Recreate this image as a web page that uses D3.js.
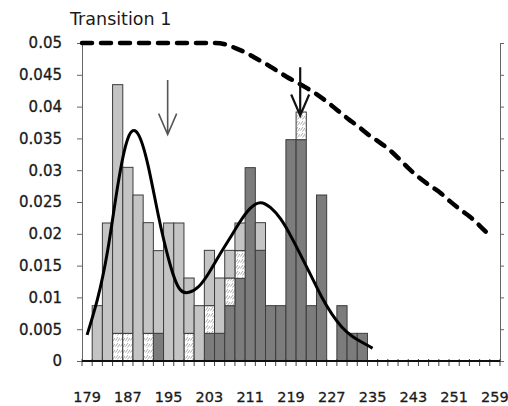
<!DOCTYPE html>
<html>
<head>
<meta charset="utf-8">
<script src="https://cdn.jsdelivr.net/npm/d3@7/dist/d3.min.js"></script>
<style>
  body { margin: 0; background: #fff; }
  svg { display: block; font-family: "DejaVu Sans", Verdana, sans-serif; }
</style>
</head>
<body>
<svg id="chart" width="508" height="406"></svg>
<script>

// histogram categories (bin centres)
const categories = [179, 181, 183, 185, 187, 189, 191, 193, 195, 197, 199, 201, 203, 205,
    207, 209, 211, 213, 215, 217, 219, 221, 223, 225, 227, 229, 231, 233, 235, 237, 239,
    241, 243, 245, 247, 249, 251, 253, 255, 257, 259]

// stacked densities, bottom to top
const groupTwo = [0, 0, 0, 0, 0, 0, 0, 0.00435, 0, 0, 0, 0, 0.00435, 0.00435,
    0.0087, 0.013, 0.0304, 0.0174, 0.0087, 0.0087, 0.0348, 0.0348, 0.0087, 0.0261, 0,
    0.0087, 0.00435, 0.00435, 0, 0, 0, 0, 0, 0, 0, 0, 0, 0, 0, 0, 0]
const unassigned = [0, 0, 0, 0.00435, 0.00435, 0, 0.00435, 0, 0, 0, 0.00435, 0, 0.00435, 0,
    0.00435, 0.00435, 0, 0, 0, 0, 0, 0.00435, 0, 0, 0, 0, 0, 0, 0, 0, 0, 0, 0, 0, 0, 0, 0,
    0, 0, 0, 0]
const groupOne = [0, 0.0087, 0.0217, 0.0391, 0.0261, 0.0261, 0.0174, 0.013, 0.0217, 0.0217,
    0.0087, 0.0087, 0.0087, 0.0087, 0.00435, 0.00435, 0, 0.00435, 0, 0, 0, 0, 0, 0, 0, 0,
    0, 0, 0, 0, 0, 0, 0, 0, 0, 0, 0, 0, 0, 0, 0]

// fitted mixture density
const fitCategories = [179, 181, 183, 185, 187, 189, 191, 193, 195, 197, 199, 201, 203, 205,
    207, 209, 211, 213, 215, 217, 219, 221, 223, 225, 227, 229, 231, 233, 235]
const fitted = [0.0041, 0.0096, 0.0172, 0.0275, 0.0350, 0.0357, 0.0306, 0.0228, 0.0160,
    0.0115, 0.0108, 0.0118, 0.0140, 0.0167, 0.0193, 0.0219, 0.0240, 0.0249, 0.0241, 0.0223,
    0.0196, 0.0165, 0.0133, 0.0101, 0.0074, 0.0053, 0.0039, 0.0029, 0.0020]

// dashed curve (secondary axis)
const boundary = [0.05, 0.05, 0.05, 0.05, 0.05, 0.05, 0.05, 0.05, 0.05, 0.05, 0.05, 0.05,
    0.05, 0.05, 0.0498, 0.0492, 0.0485, 0.0476, 0.0467, 0.0457, 0.0447, 0.0438, 0.0429,
    0.0419, 0.0407, 0.0394, 0.0381, 0.0369, 0.0356, 0.0345, 0.0333, 0.0318, 0.0302, 0.0288,
    0.0276, 0.0265, 0.0251, 0.0238, 0.0226, 0.0211, 0.0195]

const xTickLabels = [179, 187, 195, 203, 211, 219, 227, 235, 243, 251, 259]
const yTicks = [0, 0.005, 0.01, 0.015, 0.02, 0.025, 0.03, 0.035, 0.04, 0.045, 0.05]

// arrows: category, start value, tip value
const arrows = [
    { cat: 195, from: 0.0442, to: 0.0356, color: "#555", width: 1.6 },
    { cat: 221, from: 0.0462, to: 0.0386, color: "#111", width: 2.2 }
]

const svg = d3.select("#chart")
const plotLeft = 82, plotRight = 500, plotTop = 43, plotBottom = 361

const x = d3.scaleBand().domain(categories).range([plotLeft, plotRight]).padding(0)
const x2 = d3.scalePoint().domain(categories).range([plotLeft, 491])
const y = d3.scaleLinear().domain([0, 0.05]).range([plotBottom, plotTop])

// hatch pattern
const pat = svg.append("defs").append("pattern")
    .attr("id", "hatch")
    .attr("patternUnits", "userSpaceOnUse")
    .attr("width", 5).attr("height", 6)
pat.append("rect").attr("width", 5).attr("height", 6).attr("fill", "#fff")
pat.append("path").attr("d", "M0.5,4.5 L3,1 M2.5,5.5 L5,2")
    .attr("stroke", "#aaa").attr("stroke-width", 1)

const table = categories.map((c, i) => ({ cat: c, dark: groupTwo[i], hatch: unassigned[i], light: groupOne[i] }))
const stacked = d3.stack().keys(["dark", "hatch", "light"])(table)
const fills = { dark: "#7c7c7c", hatch: "url(#hatch)", light: "#c4c4c4" }

stacked.forEach(layer => {
    svg.append("g").selectAll("rect")
        .data(layer.filter(d => d[1] - d[0] > 0))
        .join("rect")
        .attr("x", d => x(d.data.cat))
        .attr("width", x.bandwidth())
        .attr("y", d => y(d[1]))
        .attr("height", d => y(d[0]) - y(d[1]))
        .attr("fill", fills[layer.key])
        .attr("stroke", "#3c3c3c")
        .attr("stroke-width", 1)
})

// left axis
const yAxis = svg.append("g")
    .attr("transform", `translate(${plotLeft},0)`)
    .call(d3.axisLeft(y).tickValues(yTicks).tickSize(5).tickPadding(15).tickFormat(d => String(d)))
yAxis.select(".domain").attr("stroke", "#666")
yAxis.selectAll(".tick line").attr("stroke", "#666")
yAxis.selectAll("text").attr("font-size", 15).attr("fill", "#1a1a1a")
    .attr("stroke", "#1a1a1a").attr("stroke-width", 0.3)
    .attr("font-family", "DejaVu Sans, sans-serif")

// right axis, no labels
const yAxisR = svg.append("g")
    .attr("transform", `translate(${plotRight},0)`)
    .call(d3.axisRight(y).tickValues(yTicks).tickSize(4).tickFormat(""))
yAxisR.select(".domain").attr("stroke", "#666")
yAxisR.selectAll(".tick line").attr("stroke", "#666")

// bottom axis: ticks on category boundaries, labels every fourth bin
svg.append("g").selectAll("line")
    .data(categories.concat(["end"]))
    .join("line")
    .attr("x1", d => d === "end" ? plotRight : x(d))
    .attr("x2", d => d === "end" ? plotRight : x(d))
    .attr("y1", plotBottom - 2)
    .attr("y2", plotBottom + 5)
    .attr("stroke", "#444")
    .attr("stroke-width", 1)
svg.append("line")
    .attr("x1", plotLeft).attr("x2", plotRight)
    .attr("y1", plotBottom).attr("y2", plotBottom)
    .attr("stroke", "#111").attr("stroke-width", 2)
svg.append("g").selectAll("text")
    .data(xTickLabels)
    .join("text")
    .attr("x", d => x(d) + x.bandwidth() / 2)
    .attr("y", 402)
    .attr("text-anchor", "middle")
    .attr("font-size", 14.5)
    .attr("fill", "#1a1a1a")
    .attr("stroke", "#1a1a1a").attr("stroke-width", 0.3)
    .text(d => d)

// fitted curve
svg.append("path")
    .datum(fitCategories.map((c, i) => [c, fitted[i]]))
    .attr("fill", "none")
    .attr("stroke", "#000")
    .attr("stroke-width", 3)
    .attr("d", d3.line()
        .x(d => x(d[0]) + x.bandwidth() / 2)
        .y(d => y(d[1]))
        .curve(d3.curveNatural))

// dashed curve
svg.append("path")
    .datum(categories.map((c, i) => [c, boundary[i]]))
    .attr("fill", "none")
    .attr("stroke", "#000")
    .attr("stroke-width", 4.5)
    .attr("stroke-dasharray", "10 9")
    .attr("stroke-linecap", "round")
    .attr("d", d3.line()
        .x(d => x2(d[0]))
        .y(d => y(d[1]))
        .curve(d3.curveMonotoneX))

// arrows
arrows.forEach(a => {
    const ax = x(a.cat) + x.bandwidth() / 2 - 1
    const y0 = y(a.from), y1 = y(a.to)
    svg.append("path")
        .attr("d", `M${ax},${y0} L${ax},${y1} M${ax - 9},${y1 - 21} L${ax},${y1} L${ax + 9},${y1 - 21}`)
        .attr("fill", "none")
        .attr("stroke", a.color)
        .attr("stroke-width", a.width)
})

// title
svg.append("text")
    .attr("x", 70)
    .attr("y", 25)
    .attr("font-size", 17.5)
    .attr("fill", "#1a1a1a")
    .text("Transition 1")

</script>
</body>
</html>
